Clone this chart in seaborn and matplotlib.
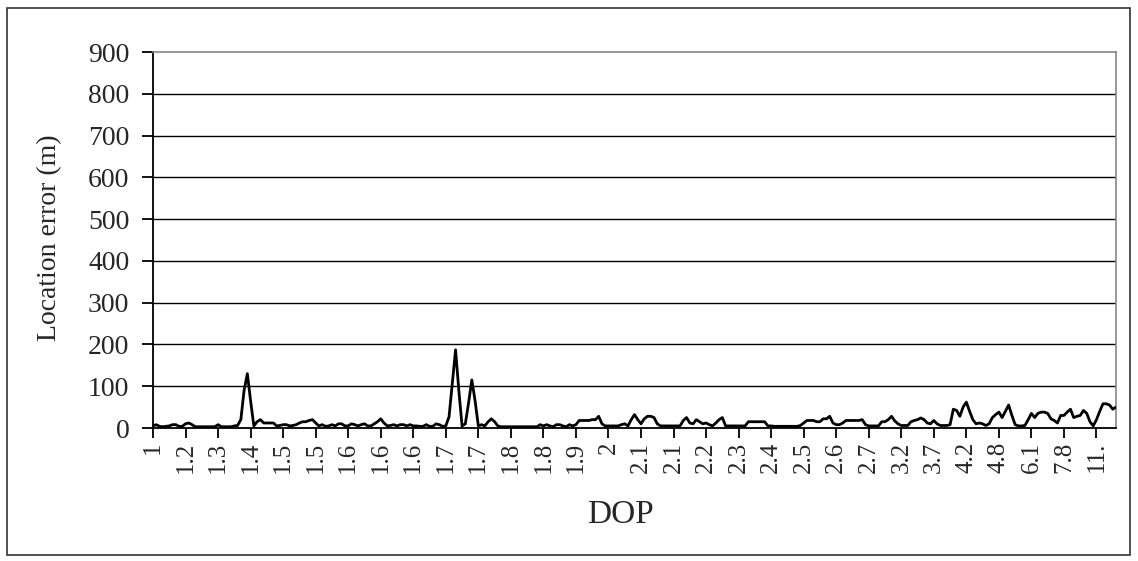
import matplotlib
matplotlib.use("Agg")
import matplotlib.pyplot as plt
import seaborn as sns
import numpy as np
import pandas as pd
from matplotlib.patches import Rectangle

error_values = [
    5, 8, 4, 3, 4, 5, 8, 8, 4, 4,
    10, 12, 8, 3, 3, 3, 3, 3, 3, 3,
    8, 3, 3, 3, 3, 5, 6, 20, 90, 130,
    65, 5, 15, 20, 12, 12, 12, 12, 5, 6,
    8, 8, 5, 6, 8, 12, 15, 15, 18, 20,
    12, 5, 8, 4, 5, 8, 5, 10, 10, 5,
    5, 10, 8, 5, 8, 10, 5, 5, 10, 15,
    22, 12, 5, 6, 8, 5, 8, 8, 5, 8,
    5, 5, 4, 4, 8, 4, 4, 10, 8, 4,
    5, 27, 107, 187, 90, 5, 10, 60, 115, 65,
    5, 8, 5, 15, 22, 15, 5, 3, 3, 3,
    3, 3, 3, 3, 3, 3, 3, 3, 3, 8,
    5, 8, 5, 3, 8, 8, 5, 3, 8, 5,
    8, 18, 18, 18, 18, 20, 20, 28, 10, 5,
    5, 5, 5, 5, 8, 10, 5, 20, 32, 20,
    10, 22, 28, 28, 25, 10, 5, 5, 5, 5,
    5, 5, 5, 18, 25, 12, 10, 20, 15, 10,
    12, 8, 5, 12, 20, 25, 5, 5, 5, 5,
    5, 5, 5, 15, 15, 15, 15, 15, 15, 5,
    5, 4, 4, 4, 4, 4, 4, 4, 4, 6,
    12, 18, 18, 18, 15, 15, 22, 22, 28, 12,
    8, 8, 12, 18, 18, 18, 18, 18, 20, 8,
    5, 5, 5, 5, 15, 15, 20, 28, 17, 10,
    6, 6, 6, 15, 18, 20, 24, 20, 12, 10,
    18, 10, 6, 6, 6, 8, 45, 42, 28, 50,
    62, 40, 20, 10, 12, 10, 6, 10, 25, 32,
    38, 25, 40, 55, 30, 8, 5, 5, 6, 20,
    35, 25, 35, 38, 38, 35, 22, 18, 12, 30,
    30, 38, 45, 25, 28, 30, 42, 35, 15, 5,
    20, 40, 58, 58, 55, 45, 50,
]

# Category tick labels (DOP), shown every 10th observation
dop_labels = ["1", "1.2", "1.3", "1.4", "1.5", "1.5", "1.6", "1.6", "1.6", "1.7",
              "1.7", "1.8", "1.8", "1.9", "2", "2.1", "2.1", "2.2", "2.3", "2.4",
              "2.5", "2.6", "2.7", "3.2", "3.7", "4.2", "4.8", "6.1", "7.8", "11."]
label_step = 10

y_ticks = [0, 100, 200, 300, 400, 500, 600, 700, 800, 900]

sns.set_theme(style="white")
plt.rcParams['font.family'] = ['Liberation Serif', 'DejaVu Serif']

df = pd.DataFrame({"obs": np.arange(len(error_values)), "error": error_values})

W, H = 1138, 561
fig = plt.figure(figsize=(W / 100, H / 100), dpi=100)
fig.patch.set_facecolor("white")
fig.patches.append(Rectangle((7 / W, 1 - 555 / H), (1130 - 7) / W, (555 - 8) / H,
                             transform=fig.transFigure, fill=False,
                             edgecolor="#333333", linewidth=1.2))

ax = fig.add_axes([153 / W, 1 - 428 / H, (1116 - 153) / W, (428 - 52) / H])
ax.set_facecolor("white")

for v in y_ticks[1:-1]:
    ax.axhline(v, color="black", linewidth=1.0, zorder=1)

sns.lineplot(data=df, x="obs", y="error", ax=ax, color="black", linewidth=2.0, zorder=3)

ax.set_xlim(0, len(error_values) - 1)
ax.set_ylim(0, 900)
ax.set_yticks(y_ticks)
ax.set_yticklabels([str(v) for v in y_ticks], fontsize=20)
tick_pos = list(range(0, len(dop_labels) * label_step, label_step))
ax.set_xticks(tick_pos)
ax.set_xticklabels(dop_labels, rotation=90, fontsize=18, va="top", ha="center")

ax.tick_params(axis="y", direction="out", length=8, width=1.3, color="black",
               left=True, pad=9)
ax.tick_params(axis="x", direction="out", length=7, width=1.3, color="black",
               bottom=True, pad=3)

ax.spines["left"].set_color("black")
ax.spines["left"].set_linewidth(1.3)
ax.spines["bottom"].set_color("black")
ax.spines["bottom"].set_linewidth(1.3)
ax.spines["right"].set_color("#888888")
ax.spines["right"].set_linewidth(1.2)
ax.spines["top"].set_color("#888888")
ax.spines["top"].set_linewidth(1.2)

ax.set_xlabel("DOP", fontsize=24)
ax.set_ylabel("Location error (m)", fontsize=20)
ax.xaxis.set_label_coords((620 - 153) / 963, (428 - 515) / 376)
ax.yaxis.set_label_coords((50 - 153) / 963, (428 - 238) / 376)
ax.xaxis.label.set_va("center")
ax.yaxis.label.set_va("center")

fig.savefig("out.png", dpi=100, facecolor="white")
